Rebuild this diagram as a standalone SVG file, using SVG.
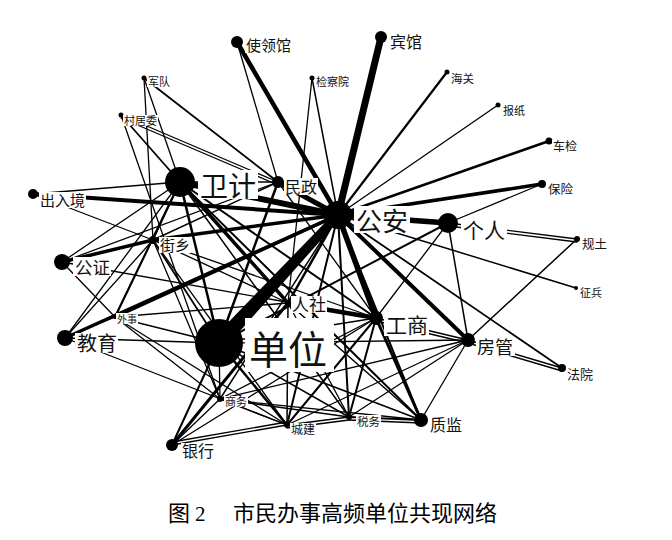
<svg xmlns="http://www.w3.org/2000/svg" width="672" height="540" viewBox="0 0 672 540">
<style>
.e line{stroke:#000;stroke-linecap:round;fill:none}
.n circle{fill:#000}
.n rect{fill:#fff}
.n text{font-family:"Noto Sans CJK SC","Noto Sans",sans-serif;fill:#111}
.cap{font-family:"Noto Sans CJK SC",sans-serif;font-size:22px;fill:#000}
</style>
<rect width="672" height="540" fill="#fff"/>
<g id="connectors" class="e">
<polygon points="225.1,347.8 212.9,338.2 335.1,212.3 340.9,217.7" fill="#000"/>
<line x1="381" y1="37" x2="338" y2="215" stroke-width="7"/>
<line x1="237" y1="42" x2="338" y2="215" stroke-width="4.5"/>
<line x1="237" y1="42" x2="278" y2="182" stroke-width="1.3"/>
<line x1="312" y1="78" x2="338" y2="215" stroke-width="1.5"/>
<line x1="312" y1="78" x2="288" y2="303" stroke-width="1.3"/>
<line x1="447" y1="72" x2="338" y2="215" stroke-width="2.2"/>
<line x1="498" y1="105" x2="338" y2="215" stroke-width="1.3"/>
<line x1="549" y1="141" x2="338" y2="215" stroke-width="2.5"/>
<line x1="542" y1="184" x2="338" y2="215" stroke-width="3.5"/>
<line x1="542" y1="184" x2="448" y2="223" stroke-width="1.3"/>
<line x1="144" y1="78" x2="180" y2="182" stroke-width="1.3"/>
<line x1="144" y1="78" x2="153" y2="240" stroke-width="1.3"/>
<line x1="144" y1="78" x2="278" y2="182" stroke-width="1.8"/>
<line x1="121" y1="115" x2="180" y2="182" stroke-width="1.8"/>
<line x1="121" y1="115" x2="278" y2="182" stroke-width="1.2"/>
<line x1="121" y1="118" x2="278" y2="185" stroke-width="1.2"/>
<line x1="121" y1="115" x2="220" y2="399" stroke-width="1.3"/>
<line x1="180" y1="182" x2="338" y2="215" stroke-width="6"/>
<line x1="180" y1="182" x2="278" y2="182" stroke-width="1.5"/>
<line x1="180" y1="182" x2="33" y2="194" stroke-width="1.3"/>
<line x1="180" y1="182" x2="288" y2="303" stroke-width="3.5"/>
<line x1="180" y1="182" x2="115" y2="317" stroke-width="2.2"/>
<line x1="180" y1="182" x2="153" y2="240" stroke-width="1.5"/>
<line x1="180" y1="182" x2="219" y2="343" stroke-width="2.5"/>
<line x1="180" y1="182" x2="349" y2="417" stroke-width="1.5"/>
<line x1="180" y1="182" x2="376" y2="318" stroke-width="2"/>
<line x1="180" y1="182" x2="421" y2="420" stroke-width="2"/>
<line x1="278" y1="182" x2="338" y2="215" stroke-width="5"/>
<line x1="278" y1="182" x2="62" y2="262" stroke-width="1.3"/>
<line x1="278" y1="182" x2="219" y2="343" stroke-width="2.5"/>
<line x1="278" y1="182" x2="153" y2="240" stroke-width="1.5"/>
<line x1="278" y1="182" x2="376" y2="318" stroke-width="1.3"/>
<line x1="448" y1="223" x2="338" y2="215" stroke-width="5.5"/>
<line x1="448" y1="223" x2="577" y2="239" stroke-width="1.3"/>
<line x1="448" y1="226" x2="577" y2="242" stroke-width="1.3"/>
<line x1="448" y1="223" x2="376" y2="318" stroke-width="1.3"/>
<line x1="448" y1="223" x2="468" y2="340" stroke-width="1.5"/>
<line x1="448" y1="223" x2="219" y2="343" stroke-width="2"/>
<line x1="338" y1="215" x2="576" y2="288" stroke-width="1.5"/>
<line x1="338" y1="215" x2="562" y2="368" stroke-width="1.8"/>
<line x1="338" y1="215" x2="468" y2="340" stroke-width="4"/>
<line x1="338" y1="215" x2="376" y2="318" stroke-width="5.5"/>
<line x1="338" y1="215" x2="288" y2="303" stroke-width="2.5"/>
<line x1="338" y1="215" x2="33" y2="194" stroke-width="4"/>
<line x1="338" y1="215" x2="153" y2="240" stroke-width="3.5"/>
<line x1="338" y1="215" x2="65" y2="338" stroke-width="3.5"/>
<line x1="338" y1="215" x2="115" y2="317" stroke-width="3.5"/>
<line x1="338" y1="215" x2="349" y2="417" stroke-width="2"/>
<line x1="338" y1="215" x2="287" y2="425" stroke-width="2"/>
<line x1="338" y1="215" x2="220" y2="399" stroke-width="1.5"/>
<line x1="338" y1="215" x2="421" y2="420" stroke-width="2"/>
<line x1="153" y1="240" x2="62" y2="262" stroke-width="3.5"/>
<line x1="172" y1="445" x2="288" y2="303" stroke-width="3"/>
<line x1="468" y1="340" x2="577" y2="239" stroke-width="1.5"/>
<line x1="468" y1="340" x2="562" y2="368" stroke-width="1.5"/>
<line x1="468" y1="343" x2="562" y2="371" stroke-width="1.5"/>
<line x1="376" y1="318" x2="468" y2="340" stroke-width="1.5"/>
<line x1="376" y1="321" x2="468" y2="343" stroke-width="1.5"/>
<line x1="468" y1="340" x2="287" y2="425" stroke-width="1.3"/>
<line x1="468" y1="340" x2="220" y2="399" stroke-width="1.3"/>
<line x1="468" y1="340" x2="349" y2="417" stroke-width="1.3"/>
<line x1="468" y1="340" x2="421" y2="420" stroke-width="1.3"/>
<line x1="468" y1="340" x2="219" y2="343" stroke-width="1.3"/>
<line x1="376" y1="318" x2="288" y2="303" stroke-width="4.5"/>
<line x1="376" y1="318" x2="421" y2="420" stroke-width="3"/>
<line x1="376" y1="318" x2="349" y2="417" stroke-width="2"/>
<line x1="376" y1="318" x2="287" y2="425" stroke-width="2"/>
<line x1="376" y1="318" x2="220" y2="399" stroke-width="1.3"/>
<line x1="376" y1="318" x2="219" y2="343" stroke-width="1.5"/>
<line x1="376" y1="318" x2="62" y2="262" stroke-width="1.3"/>
<line x1="376" y1="318" x2="153" y2="240" stroke-width="1.3"/>
<line x1="376" y1="318" x2="172" y2="445" stroke-width="1.3"/>
<line x1="288" y1="303" x2="153" y2="240" stroke-width="1.3"/>
<line x1="288" y1="303" x2="115" y2="317" stroke-width="1.3"/>
<line x1="288" y1="303" x2="287" y2="425" stroke-width="1.5"/>
<line x1="288" y1="303" x2="349" y2="417" stroke-width="1.3"/>
<line x1="288" y1="303" x2="421" y2="420" stroke-width="1.5"/>
<line x1="219" y1="343" x2="172" y2="445" stroke-width="2"/>
<line x1="219" y1="343" x2="220" y2="399" stroke-width="1.3"/>
<line x1="219" y1="343" x2="287" y2="425" stroke-width="2.5"/>
<line x1="219" y1="343" x2="349" y2="417" stroke-width="1.5"/>
<line x1="219" y1="343" x2="421" y2="420" stroke-width="1.5"/>
<line x1="219" y1="343" x2="65" y2="338" stroke-width="1.5"/>
<line x1="219" y1="343" x2="115" y2="317" stroke-width="1.3"/>
<line x1="219" y1="343" x2="153" y2="240" stroke-width="1.8"/>
<line x1="65" y1="338" x2="153" y2="240" stroke-width="1.3"/>
<line x1="65" y1="338" x2="180" y2="182" stroke-width="1.3"/>
<line x1="65" y1="338" x2="115" y2="317" stroke-width="1.3"/>
<line x1="65" y1="338" x2="287" y2="425" stroke-width="1.3"/>
<line x1="62" y1="262" x2="180" y2="182" stroke-width="1.3"/>
<line x1="62" y1="262" x2="115" y2="317" stroke-width="1.3"/>
<line x1="33" y1="194" x2="153" y2="240" stroke-width="1.3"/>
<line x1="220" y1="399" x2="172" y2="445" stroke-width="1.3"/>
<line x1="220" y1="399" x2="287" y2="425" stroke-width="1.3"/>
<line x1="220" y1="399" x2="349" y2="417" stroke-width="1.3"/>
<line x1="220" y1="399" x2="421" y2="420" stroke-width="1.3"/>
<line x1="172" y1="445" x2="287" y2="425" stroke-width="1.3"/>
<line x1="172" y1="442" x2="287" y2="422" stroke-width="1.3"/>
<line x1="287" y1="425" x2="349" y2="417" stroke-width="1.3"/>
<line x1="287" y1="428" x2="349" y2="420" stroke-width="1.3"/>
<line x1="349" y1="417" x2="421" y2="420" stroke-width="2"/>
<line x1="349" y1="420" x2="421" y2="423" stroke-width="1.5"/>
<line x1="153" y1="240" x2="220" y2="399" stroke-width="1.3"/>
<line x1="153" y1="240" x2="287" y2="425" stroke-width="1.3"/>
<line x1="115" y1="317" x2="287" y2="425" stroke-width="1.3"/>
<line x1="115" y1="317" x2="220" y2="399" stroke-width="1.3"/>
</g>
<g id="n-shilingguan" class="n"><circle cx="237" cy="42" r="6"/><rect x="245" y="38" width="47" height="15"/><text x="246" y="51" font-size="15">使领馆</text></g>
<g id="n-binguan" class="n"><circle cx="381" cy="37" r="6"/><rect x="389" y="34" width="34" height="16"/><text x="390" y="48" font-size="16">宾馆</text></g>
<g id="n-jianchayuan" class="n"><circle cx="312" cy="78" r="2.5"/><rect x="315" y="76" width="35" height="11"/><text x="316" y="86" font-size="11">检察院</text></g>
<g id="n-haiguan" class="n"><circle cx="447" cy="72" r="2.5"/><rect x="450" y="72" width="25" height="12"/><text x="451" y="83" font-size="11.5">海关</text></g>
<g id="n-baozhi" class="n"><circle cx="498" cy="105" r="2.5"/><rect x="502" y="104" width="24" height="12"/><text x="503" y="115" font-size="11">报纸</text></g>
<g id="n-chejian" class="n"><circle cx="549" cy="141" r="3.5"/><rect x="552" y="140" width="26" height="12"/><text x="553" y="151" font-size="12">车检</text></g>
<g id="n-baoxian" class="n"><circle cx="542" cy="184" r="4"/><rect x="547" y="182" width="27" height="13"/><text x="548" y="194" font-size="12.5">保险</text></g>
<g id="n-jundui" class="n"><circle cx="144" cy="78" r="2.5"/><rect x="147" y="76" width="24" height="11"/><text x="148" y="86" font-size="11">军队</text></g>
<g id="n-cunjuwei" class="n"><circle cx="121" cy="115" r="2.5"/><rect x="123" y="115" width="35" height="11"/><text x="124" y="125" font-size="11">村居委</text></g>
<g id="n-weiji" class="n"><circle cx="180" cy="182" r="15"/><rect x="198" y="170" width="60" height="29"/><text x="200" y="197" font-size="28">卫计</text></g>
<g id="n-minzheng" class="n"><circle cx="278" cy="182" r="6"/><rect x="284" y="178" width="34" height="17"/><text x="285" y="193" font-size="16">民政</text></g>
<g id="n-gongan" class="n"><circle cx="338" cy="215" r="14"/><rect x="354" y="206" width="56" height="27"/><text x="356" y="231" font-size="26">公安</text></g>
<g id="n-geren" class="n"><circle cx="448" cy="223" r="10"/><rect x="461" y="219" width="46" height="21"/><text x="463" y="238" font-size="21">个人</text></g>
<g id="n-churujing" class="n"><circle cx="33" cy="194" r="5"/><rect x="39" y="192" width="47" height="16"/><text x="40" y="206" font-size="15">出入境</text></g>
<g id="n-jiexiang" class="n"><circle cx="153" cy="240" r="4"/><rect x="159" y="237" width="32" height="16"/><text x="160" y="251" font-size="15">街乡</text></g>
<g id="n-gongzheng" class="n"><circle cx="62" cy="262" r="8"/><rect x="73" y="257" width="38" height="19"/><text x="75" y="274" font-size="17.5">公证</text></g>
<g id="n-guitu" class="n"><circle cx="577" cy="239" r="3"/><rect x="581" y="237" width="27" height="13"/><text x="582" y="249" font-size="12.5">规土</text></g>
<g id="n-zhengbing" class="n"><circle cx="576" cy="288" r="2"/><rect x="579" y="287" width="24" height="11"/><text x="580" y="297" font-size="11">征兵</text></g>
<g id="n-waishi" class="n"><circle cx="115" cy="317" r="2"/><rect x="116" y="313" width="22" height="11"/><text x="117" y="323" font-size="10">外事</text></g>
<g id="n-renshe" class="n"><circle cx="288" cy="303" r="3"/><rect x="291" y="296" width="36" height="17"/><text x="292" y="311" font-size="17">人社</text></g>
<g id="n-gongshang" class="n"><circle cx="376" cy="318" r="7"/><rect x="384" y="315" width="45" height="21"/><text x="386" y="333" font-size="21">工商</text></g>
<g id="n-danwei" class="n"><circle cx="219" cy="343" r="24"/><rect x="245" y="318" width="89" height="54"/><text x="249" y="364" font-size="39">单位</text></g>
<g id="n-jiaoyu" class="n"><circle cx="65" cy="338" r="8"/><rect x="75" y="333" width="43" height="20"/><text x="77" y="351" font-size="20">教育</text></g>
<g id="n-fangguan" class="n"><circle cx="468" cy="340" r="7"/><rect x="476" y="337" width="39" height="19"/><text x="477" y="354" font-size="18">房管</text></g>
<g id="n-fayuan" class="n"><circle cx="562" cy="368" r="4"/><rect x="566" y="366" width="28" height="14"/><text x="567" y="379" font-size="13">法院</text></g>
<g id="n-shangwu" class="n"><circle cx="220" cy="399" r="3"/><rect x="224" y="396" width="24" height="11"/><text x="225" y="406" font-size="11">商务</text></g>
<g id="n-chengjian" class="n"><circle cx="287" cy="425" r="3"/><rect x="290" y="423" width="26" height="12"/><text x="291" y="434" font-size="12">城建</text></g>
<g id="n-shuiwu" class="n"><circle cx="349" cy="417" r="3"/><rect x="356" y="415" width="25" height="12"/><text x="357" y="426" font-size="11.5">税务</text></g>
<g id="n-zhijian" class="n"><circle cx="421" cy="420" r="7"/><rect x="429" y="417" width="34" height="16"/><text x="430" y="431" font-size="16">质监</text></g>
<g id="n-yinhang" class="n"><circle cx="172" cy="445" r="6"/><rect x="181" y="443" width="34" height="16"/><text x="182" y="457" font-size="16">银行</text></g>
<text class="cap" x="168" y="521">图<tspan font-family="Liberation Serif,serif" font-size="21" dx="5">2</tspan></text>
<text class="cap" x="233" y="521">市民办事高频单位共现网络</text>
</svg>
